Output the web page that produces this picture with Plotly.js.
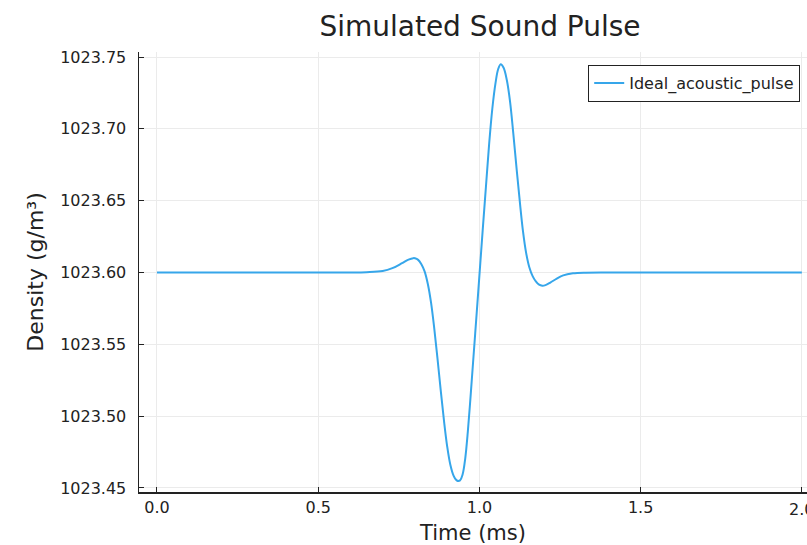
<!DOCTYPE html>
<html>
<head>
<meta charset="utf-8">
<script src="https://cdn.plot.ly/plotly-3.0.1.min.js"></script>
<style>html,body{margin:0;padding:0;background:#fff;}#chart{width:807px;height:545px;}</style>
</head>
<body>
<div id="chart"></div>
<script>
// Data
const seriesName = "Ideal_acoustic_pulse";
const timeMs = [0.0, 0.25, 0.5, 0.6, 0.65, 0.70, 0.73, 0.76, 0.78, 0.795, 0.80, 0.81, 0.82, 0.83, 0.84, 0.85, 0.86, 0.87, 0.88, 0.89, 0.90, 0.91, 0.92, 0.93, 0.94, 0.948, 0.956, 0.964, 0.972, 0.98, 0.99, 1.0, 1.01, 1.02, 1.03, 1.04, 1.05, 1.058, 1.066, 1.075, 1.085, 1.095, 1.105, 1.115, 1.125, 1.135, 1.145, 1.155, 1.165, 1.175, 1.185, 1.195, 1.205, 1.22, 1.24, 1.26, 1.29, 1.33, 1.40, 1.6, 1.8, 2.0];
const density = [1023.6000, 1023.6000, 1023.6000, 1023.6000, 1023.6002, 1023.6010, 1023.6030, 1023.6065, 1023.6090, 1023.6100, 1023.6099, 1023.6088, 1023.6058, 1023.6008, 1023.5920, 1023.5790, 1023.5610, 1023.5400, 1023.5180, 1023.4970, 1023.4790, 1023.4660, 1023.4585, 1023.4552, 1023.4553, 1023.4595, 1023.4705, 1023.4890, 1023.5120, 1023.5365, 1023.5670, 1023.5980, 1023.6290, 1023.6590, 1023.6890, 1023.7140, 1023.7320, 1023.7415, 1023.7450, 1023.7425, 1023.7340, 1023.7190, 1023.6970, 1023.6730, 1023.6500, 1023.6290, 1023.6135, 1023.6035, 1023.5975, 1023.5938, 1023.5915, 1023.5908, 1023.5912, 1023.5930, 1023.5958, 1023.5980, 1023.5994, 1023.5999, 1023.6000, 1023.6000, 1023.6000, 1023.6000];
const xTicks = [0.0, 0.5, 1.0, 1.5, 2.0];
const xTickLabels = ["0.0", "0.5", "1.0", "1.5", "2.0"];
const yTicks = [1023.45, 1023.50, 1023.55, 1023.60, 1023.65, 1023.70, 1023.75];
const yTickLabels = ["1023.45", "1023.50", "1023.55", "1023.60", "1023.65", "1023.70", "1023.75"];
const chartTitle = "Simulated Sound Pulse";
const xTitle = "Time (ms)";
const yTitle = "Density (g/m³)";

const font = "DejaVu Sans, sans-serif";
const textColor = "#222";
const trace = {
  x: timeMs, y: density, type: "scatter", mode: "lines", name: seriesName,
  line: {color: "#36a6ea", width: 2, shape: "spline", smoothing: 1}
};
// last x tick label sits on the cut-off right edge (as in the reference); draw it at its tick
const edgeLabel = {
  x: xTicks[xTicks.length - 1], xref: "x", y: 0, yref: "paper",
  text: xTickLabels[xTickLabels.length - 1], showarrow: false,
  xanchor: "center", yanchor: "top", yshift: -6,
  font: {family: font, size: 16, color: textColor}
};
const layout = {
  width: 807, height: 545,
  margin: {l: 139, r: 0, t: 52, b: 53, pad: 0},
  paper_bgcolor: "#fff", plot_bgcolor: "#fff",
  font: {family: font, color: textColor},
  title: {text: chartTitle, font: {family: font, size: 28, color: textColor},
          x: 480/807, xref: "container", xanchor: "center",
          y: 1 - 26/545, yref: "container", yanchor: "middle"},
  showlegend: true,
  legend: {x: (800-139)/668, xanchor: "right", y: 1 - 13/440, yanchor: "top",
           bgcolor: "#fff", bordercolor: "#222", borderwidth: 1.2,
           font: {family: font, size: 16, color: textColor}},
  annotations: [edgeLabel],
  xaxis: {
    range: [-0.0558, 2.016], tickvals: xTicks, ticktext: xTickLabels,
    showgrid: true, gridcolor: "#ebebeb", gridwidth: 1, zeroline: false,
    showline: true, linecolor: "#222", linewidth: 1.5, mirror: false,
    ticks: "inside", ticklen: 5, tickcolor: "#222", tickwidth: 1,
    tickfont: {family: font, size: 16, color: textColor},
    title: {text: xTitle, font: {family: font, size: 21, color: textColor}, standoff: 13}
  },
  yaxis: {
    range: [1023.4472, 1023.7535], tickvals: yTicks, ticktext: yTickLabels,
    showgrid: true, gridcolor: "#ebebeb", gridwidth: 1, zeroline: false,
    showline: true, linecolor: "#222", linewidth: 1.5, mirror: false,
    ticks: "inside", ticklen: 5, tickcolor: "#222", tickwidth: 1,
    ticklabelstandoff: 8,
    tickfont: {family: font, size: 16, color: textColor},
    title: {text: yTitle, font: {family: font, size: 22, color: textColor}, standoff: 10}
  }
};
Plotly.newPlot("chart", [trace], layout, {displayModeBar: false, staticPlot: true});
</script>
</body>
</html>
